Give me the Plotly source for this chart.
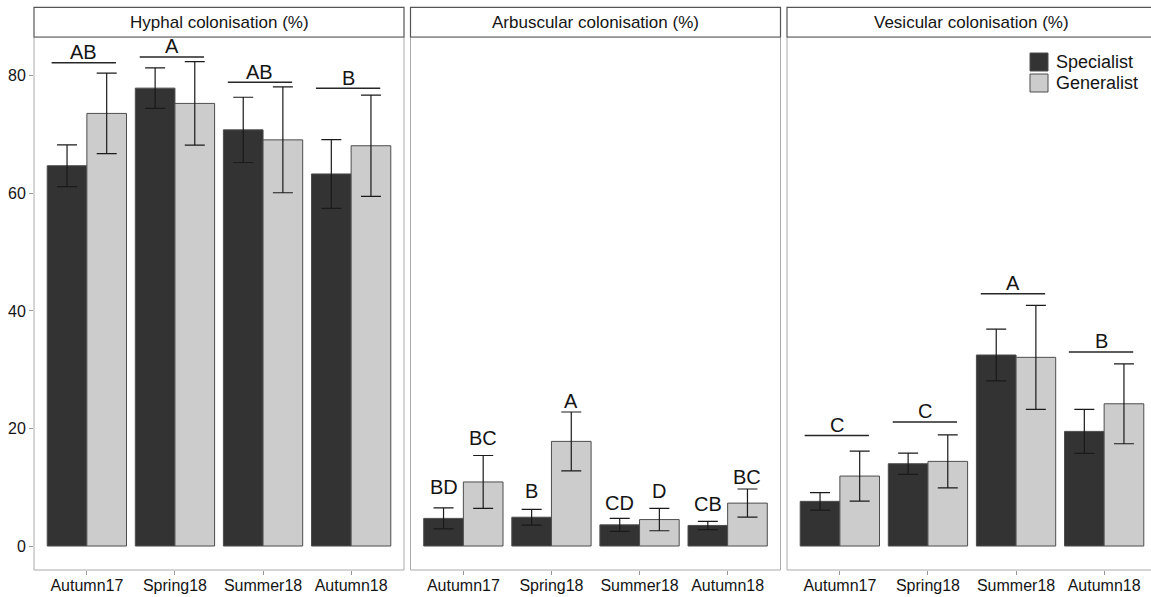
import plotly.graph_objects as go

# ---- data -------------------------------------------------------------
seasons = ["Autumn17", "Spring18", "Summer18", "Autumn18"]
groups = ["Specialist", "Generalist"]
panel_titles = ["Hyphal colonisation (%)", "Arbuscular colonisation (%)",
                "Vesicular colonisation (%)"]

hyphal_specialist = [64.7, 77.9, 70.8, 63.3]
hyphal_specialist_err = [3.55, 3.45, 5.55, 5.85]
hyphal_generalist = [73.6, 75.3, 69.1, 68.1]
hyphal_generalist_err = [6.85, 7.1, 9.0, 8.6]

arbuscular_specialist = [4.7, 4.9, 3.6, 3.5]
arbuscular_specialist_err = [1.8, 1.35, 1.1, 0.7]
arbuscular_generalist = [10.9, 17.8, 4.5, 7.3]
arbuscular_generalist_err = [4.5, 5.0, 1.9, 2.4]

vesicular_specialist = [7.6, 14.0, 32.5, 19.5]
vesicular_specialist_err = [1.5, 1.8, 4.4, 3.75]
vesicular_generalist = [11.9, 14.4, 32.1, 24.2]
vesicular_generalist_err = [4.25, 4.5, 8.85, 6.8]

# season-level significance letters (bracket over both bars)
hyphal_letters = ["AB", "A", "AB", "B"]
hyphal_bracket_y = [82.2, 83.2, 78.9, 77.9]
vesicular_letters = ["C", "C", "A", "B"]
vesicular_bracket_y = [18.8, 21.1, 42.9, 33.0]

# bar-level significance letters (arbuscular panel)
arbuscular_letters_specialist = ["BD", "B", "CD", "CB"]
arbuscular_letters_generalist = ["BC", "A", "D", "BC"]
arbuscular_label_y_specialist = [10.1, 9.3, 7.4, 7.2]
arbuscular_label_y_generalist = [18.4, 24.6, 9.3, 11.8]

y_ticks = [0, 20, 40, 60, 80]

# ---- styling / layout constants ---------------------------------------
W, H = 1151, 597
ML, MT, MB = 34, 37, 27
PLOT_W = W - ML
PLOT_H = H - MT - MB
FONT = "Liberation Sans, Arial, sans-serif"
TXT = "#141414"
COL = {"Specialist": "#333333", "Generalist": "#cccccc"}
OUTLINE = "#4d4d4d"
PANEL_PX = [(34, 404), (410.5, 780.5), (787, 1157)]
PX_PER_CAT = 370 / 4.2
Y_RANGE = [-4.08, 86.6]


def xp(px):
    return (px - ML) / PLOT_W


def yp(py):
    return (H - MB - py) / PLOT_H


panels = [
    (hyphal_specialist, hyphal_specialist_err, hyphal_generalist, hyphal_generalist_err),
    (arbuscular_specialist, arbuscular_specialist_err, arbuscular_generalist, arbuscular_generalist_err),
    (vesicular_specialist, vesicular_specialist_err, vesicular_generalist, vesicular_generalist_err),
]

fig = go.Figure()
layout_axes = {}
shapes = []
annotations = []

for p, (s_val, s_err, g_val, g_err) in enumerate(panels):
    n = "" if p == 0 else str(p + 1)
    xa, ya = "x" + n, "y" + n
    for name, vals, errs in (("Specialist", s_val, s_err), ("Generalist", g_val, g_err)):
        fig.add_trace(go.Bar(
            x=seasons, y=vals, name=name, offsetgroup=name,
            xaxis=xa, yaxis=ya, showlegend=False,
            marker=dict(color=COL[name], line=dict(color=OUTLINE, width=1)),
            error_y=dict(type="data", array=errs, visible=True,
                         color="#1a1a1a", thickness=1.2, width=10),
        ))

    x0px, x1px = PANEL_PX[p]
    dom_end = min(1.0, xp(x1px))
    vis_px = min(x1px, W) - x0px
    layout_axes["xaxis" + n] = dict(
        domain=[xp(x0px), dom_end], anchor=ya, type="category",
        categoryorder="array", categoryarray=seasons,
        range=[-0.6, -0.6 + vis_px / PX_PER_CAT],
        showline=False, showgrid=False, zeroline=False,
        ticks="outside", ticklen=4, tickcolor="#999999", tickwidth=1,
        ticklabelstandoff=-3,
        tickfont=dict(family=FONT, size=16, color=TXT),
        automargin=False, fixedrange=True,
    )
    layout_axes["yaxis" + n] = dict(
        domain=[0, 1], anchor=xa, range=Y_RANGE,
        showline=False, showgrid=False, zeroline=False,
        tickvals=y_ticks if p == 0 else [],
        showticklabels=(p == 0),
        ticks="outside" if p == 0 else "", ticklen=4,
        tickcolor="#999999", tickwidth=1,
        tickfont=dict(family=FONT, size=16, color=TXT),
        automargin=False, fixedrange=True,
    )

    # panel border
    shapes.append(dict(type="rect", xref="paper", yref="paper",
                       x0=xp(x0px), x1=xp(x1px), y0=0, y1=1,
                       line=dict(color="#aaaaaa", width=1), layer="above"))
    # strip box + title
    shapes.append(dict(type="rect", xref="paper", yref="paper",
                       x0=xp(x0px), x1=xp(x1px), y0=1, y1=yp(7.3),
                       fillcolor="white", line=dict(color="#555555", width=1.2)))
    annotations.append(dict(
        text=panel_titles[p], xref="paper", yref="paper",
        x=(xp(x0px) + xp(x1px)) / 2,
        y=(1 + yp(7.3)) / 2, xanchor="center", yanchor="middle", showarrow=False,
        font=dict(family=FONT, size=17, color=TXT)))

# season brackets + letters
for n, letters, ys in (("", hyphal_letters, hyphal_bracket_y),
                       ("3", vesicular_letters, vesicular_bracket_y)):
    for i, (lab, yv) in enumerate(zip(letters, ys)):
        shapes.append(dict(type="line", xref="x" + n, yref="y" + n,
                           x0=i - 0.40, x1=i + 0.33, y0=yv, y1=yv,
                           line=dict(color="#262626", width=1.5)))
        annotations.append(dict(text=lab, xref="x" + n, yref="y" + n,
                                x=i - 0.035, y=yv + 1.8, showarrow=False,
                                xanchor="center", yanchor="middle",
                                font=dict(family=FONT, size=20, color=TXT)))

# arbuscular letters above each bar
for letters, ys, off in ((arbuscular_letters_specialist, arbuscular_label_y_specialist, -0.225),
                         (arbuscular_letters_generalist, arbuscular_label_y_generalist, 0.225)):
    for i, (lab, yv) in enumerate(zip(letters, ys)):
        annotations.append(dict(text=lab, xref="x2", yref="y2",
                                x=i + off, y=yv, showarrow=False,
                                xanchor="center", yanchor="middle",
                                font=dict(family=FONT, size=20, color=TXT)))

# legend
for k, name in enumerate(groups):
    cy = 62 + 21 * k
    shapes.append(dict(type="rect", xref="paper", yref="paper",
                       x0=xp(1030), x1=xp(1048), y0=yp(cy + 9), y1=yp(cy - 9),
                       fillcolor=COL[name], line=dict(color=OUTLINE, width=1)))
    annotations.append(dict(text=name, xref="paper", yref="paper",
                            x=xp(1054), y=yp(cy), xanchor="left", yanchor="middle",
                            showarrow=False,
                            font=dict(family=FONT, size=18, color=TXT)))

fig.update_layout(
    width=W, height=H,
    margin=dict(l=ML, r=0, t=MT, b=MB, pad=0),
    paper_bgcolor="white", plot_bgcolor="white",
    barmode="group", bargap=0.1, bargroupgap=0,
    shapes=shapes, annotations=annotations,
    showlegend=False,
    **layout_axes,
)

fig.write_html("out.html")
